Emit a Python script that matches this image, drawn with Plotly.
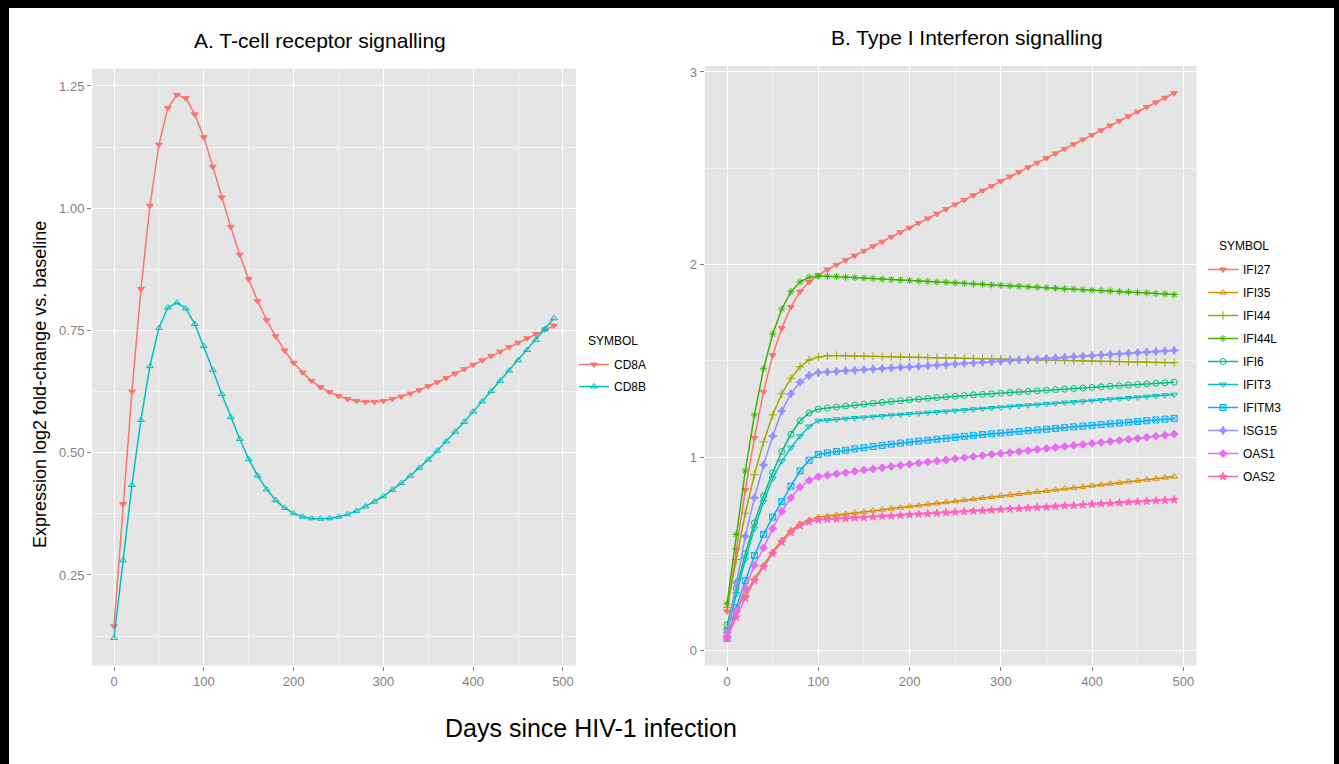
import plotly.graph_objects as go

PAGE_W, PAGE_H = 1339, 764
OFF_X, OFF_Y = 9, 8          # black frame on the left / top of the page
W, H = 1325, 756             # figure size (page minus frame)


def fx(p):
    """page pixel x -> paper fraction"""
    return (p - OFF_X) / W


def fy(p):
    """page pixel y -> paper fraction"""
    return 1 - (p - OFF_Y) / H


days = [0, 10, 20, 30, 40, 50, 60, 70, 80, 90,
        100, 110, 120, 130, 140, 150, 160, 170, 180, 190,
        200, 210, 220, 230, 240, 250, 260, 270, 280, 290,
        300, 310, 320, 330, 340, 350, 360, 370, 380, 390,
        400, 410, 420, 430, 440, 450, 460, 470, 480, 490]

# Panel A: T-cell receptor signalling
cd8a = [0.145, 0.395, 0.625, 0.835, 1.005, 1.130, 1.205, 1.232, 1.225, 1.192,
        1.145, 1.085, 1.022, 0.962, 0.905, 0.855, 0.810, 0.771, 0.738, 0.709,
        0.684, 0.664, 0.647, 0.634, 0.624, 0.616, 0.610, 0.606, 0.604, 0.604,
        0.606, 0.610, 0.615, 0.621, 0.628, 0.636, 0.644, 0.653, 0.662, 0.671,
        0.680, 0.689, 0.698, 0.707, 0.716, 0.725, 0.734, 0.743, 0.752, 0.760]
cd8b = [0.121, 0.280, 0.434, 0.567, 0.677, 0.755, 0.797, 0.807, 0.795, 0.763,
        0.718, 0.669, 0.620, 0.573, 0.528, 0.487, 0.453, 0.425, 0.403, 0.387,
        0.376, 0.369, 0.366, 0.365, 0.366, 0.369, 0.374, 0.381, 0.390, 0.400,
        0.411, 0.424, 0.438, 0.453, 0.469, 0.486, 0.504, 0.523, 0.543, 0.563,
        0.584, 0.605, 0.626, 0.647, 0.668, 0.689, 0.710, 0.731, 0.753, 0.775]

# Panel B: Type I Interferon signalling
ifi27 = [0.20, 0.52, 0.83, 1.10, 1.34, 1.53, 1.67, 1.78, 1.86, 1.91,
         1.945, 1.975, 1.999, 2.023, 2.047, 2.071, 2.095, 2.119, 2.144, 2.168,
         2.192, 2.216, 2.240, 2.264, 2.288, 2.312, 2.336, 2.360, 2.384, 2.408,
         2.433, 2.457, 2.481, 2.505, 2.529, 2.553, 2.577, 2.601, 2.625, 2.649,
         2.673, 2.697, 2.722, 2.746, 2.770, 2.794, 2.818, 2.842, 2.866, 2.890]
ifi35 = [0.12, 0.21, 0.29, 0.37, 0.44, 0.51, 0.57, 0.62, 0.655, 0.675,
         0.690, 0.695, 0.701, 0.706, 0.712, 0.717, 0.723, 0.728, 0.734, 0.739,
         0.745, 0.750, 0.756, 0.761, 0.767, 0.772, 0.778, 0.783, 0.789, 0.794,
         0.800, 0.805, 0.810, 0.816, 0.821, 0.826, 0.832, 0.837, 0.842, 0.847,
         0.853, 0.858, 0.863, 0.868, 0.874, 0.879, 0.884, 0.889, 0.895, 0.900]
ifi44 = [0.22, 0.47, 0.71, 0.91, 1.08, 1.22, 1.33, 1.41, 1.47, 1.505,
         1.520, 1.527, 1.528, 1.527, 1.526, 1.525, 1.524, 1.523, 1.522, 1.521,
         1.520, 1.519, 1.518, 1.517, 1.516, 1.515, 1.514, 1.513, 1.512, 1.511,
         1.510, 1.509, 1.508, 1.507, 1.506, 1.505, 1.504, 1.503, 1.502, 1.501,
         1.500, 1.499, 1.498, 1.497, 1.496, 1.495, 1.494, 1.493, 1.492, 1.491]
ifi44l = [0.24, 0.60, 0.93, 1.22, 1.46, 1.64, 1.77, 1.86, 1.91, 1.935,
          1.940, 1.940, 1.938, 1.935, 1.933, 1.930, 1.928, 1.925, 1.923, 1.920,
          1.918, 1.915, 1.913, 1.910, 1.908, 1.905, 1.903, 1.900, 1.898, 1.895,
          1.893, 1.890, 1.888, 1.885, 1.883, 1.880, 1.878, 1.875, 1.873, 1.870,
          1.868, 1.865, 1.863, 1.860, 1.858, 1.855, 1.853, 1.850, 1.848, 1.845]
ifi6 = [0.13, 0.32, 0.50, 0.66, 0.80, 0.92, 1.03, 1.12, 1.19, 1.23,
        1.250, 1.256, 1.261, 1.266, 1.271, 1.276, 1.281, 1.285, 1.290, 1.294,
        1.298, 1.302, 1.306, 1.310, 1.314, 1.317, 1.321, 1.324, 1.327, 1.330,
        1.333, 1.336, 1.339, 1.342, 1.345, 1.348, 1.351, 1.354, 1.357, 1.360,
        1.363, 1.366, 1.369, 1.372, 1.375, 1.378, 1.381, 1.384, 1.387, 1.390]
ifit3 = [0.10, 0.29, 0.47, 0.63, 0.77, 0.89, 0.98, 1.05, 1.11, 1.16,
         1.190, 1.193, 1.197, 1.200, 1.204, 1.207, 1.211, 1.214, 1.218, 1.221,
         1.225, 1.228, 1.232, 1.235, 1.238, 1.242, 1.245, 1.249, 1.252, 1.256,
         1.259, 1.263, 1.266, 1.270, 1.273, 1.277, 1.280, 1.284, 1.287, 1.290,
         1.294, 1.297, 1.301, 1.304, 1.308, 1.311, 1.315, 1.318, 1.322, 1.325]
ifitm3 = [0.06, 0.22, 0.36, 0.49, 0.60, 0.69, 0.77, 0.85, 0.93, 0.985,
          1.015, 1.023, 1.030, 1.037, 1.044, 1.050, 1.056, 1.062, 1.068, 1.074,
          1.079, 1.084, 1.089, 1.094, 1.099, 1.104, 1.109, 1.114, 1.118, 1.122,
          1.126, 1.130, 1.134, 1.138, 1.142, 1.146, 1.150, 1.154, 1.158, 1.162,
          1.166, 1.170, 1.174, 1.178, 1.182, 1.186, 1.190, 1.194, 1.198, 1.202]
isg15 = [0.09, 0.35, 0.59, 0.79, 0.96, 1.11, 1.24, 1.33, 1.39, 1.425,
         1.440, 1.443, 1.446, 1.449, 1.452, 1.455, 1.458, 1.461, 1.464, 1.467,
         1.469, 1.472, 1.475, 1.478, 1.481, 1.484, 1.487, 1.490, 1.493, 1.496,
         1.499, 1.502, 1.505, 1.508, 1.511, 1.514, 1.516, 1.519, 1.522, 1.525,
         1.528, 1.531, 1.534, 1.537, 1.540, 1.543, 1.546, 1.549, 1.552, 1.555]
oas1 = [0.07, 0.20, 0.32, 0.44, 0.53, 0.63, 0.72, 0.79, 0.845, 0.88,
        0.900, 0.907, 0.914, 0.920, 0.927, 0.934, 0.940, 0.946, 0.952, 0.958,
        0.964, 0.970, 0.976, 0.982, 0.987, 0.993, 0.998, 1.004, 1.009, 1.015,
        1.020, 1.025, 1.030, 1.035, 1.041, 1.046, 1.051, 1.056, 1.062, 1.067,
        1.072, 1.077, 1.083, 1.088, 1.093, 1.098, 1.104, 1.109, 1.114, 1.120]
oas2 = [0.06, 0.17, 0.27, 0.36, 0.43, 0.50, 0.56, 0.61, 0.645, 0.665,
        0.675, 0.678, 0.680, 0.683, 0.686, 0.688, 0.691, 0.694, 0.696, 0.699,
        0.702, 0.705, 0.707, 0.710, 0.713, 0.715, 0.718, 0.721, 0.723, 0.726,
        0.729, 0.732, 0.734, 0.737, 0.740, 0.742, 0.745, 0.748, 0.750, 0.753,
        0.756, 0.759, 0.761, 0.764, 0.767, 0.769, 0.772, 0.775, 0.777, 0.780]

a_names = ["CD8A", "CD8B"]
a_values = [cd8a, cd8b]
a_colors = ["#F8766D", "#00BFC4"]
a_symbols = ["triangle-down", "triangle-up-open"]

b_names = ["IFI27", "IFI35", "IFI44", "IFI44L", "IFI6", "IFIT3", "IFITM3", "ISG15", "OAS1", "OAS2"]
b_values = [ifi27, ifi35, ifi44, ifi44l, ifi6, ifit3, ifitm3, isg15, oas1, oas2]
b_colors = ["#F8766D", "#D89000", "#A3A500", "#39B600", "#00BF7D",
            "#00BFC4", "#00B0F6", "#9590FF", "#E76BF3", "#FF62BC"]
b_symbols = ["triangle-down", "triangle-up-open", "cross-thin-open", "asterisk-open", "circle-open",
             "triangle-down-open", "square-x-open", "star-diamond", "diamond", "star"]

FONT = "Liberation Sans, Arial, sans-serif"

fig = go.Figure()

for name, vals, col, sym in zip(a_names, a_values, a_colors, a_symbols):
    fig.add_trace(go.Scatter(
        x=days, y=vals, name=name, mode="lines+markers",
        line=dict(color=col, width=1.5),
        marker=dict(color=col, symbol=sym, size=6, line=dict(color=col, width=1)),
        xaxis="x", yaxis="y", legend="legend", legendgroup=name))

for name, vals, col, sym in zip(b_names, b_values, b_colors, b_symbols):
    fig.add_trace(go.Scatter(
        x=days, y=vals, name=name, mode="lines+markers",
        line=dict(color=col, width=1.5),
        marker=dict(color=col, symbol=sym, size=6, line=dict(color=col, width=1)),
        xaxis="x2", yaxis="y2", legend="legend2", legendgroup=name))


def ax(**kw):
    base = dict(showgrid=True, gridcolor="white", gridwidth=1.2, zeroline=False, showline=False,
                ticks="outside", ticklen=4, tickwidth=1, tickcolor="#7F7F7F",
                tickfont=dict(family=FONT, size=13, color="#7F7F7F"),
                autorange=False)
    base.update(kw)
    return base


fig.update_layout(
    width=W, height=H,
    margin=dict(l=0, r=0, t=0, b=0),
    paper_bgcolor="white", plot_bgcolor="#E5E5E5",
    font=dict(family=FONT, color="black"),
    xaxis=ax(domain=[fx(92), fx(576)], range=[-24.5, 514.5], anchor="y",
             tickvals=[0, 100, 200, 300, 400, 500],
             minor=dict(showgrid=True, gridcolor="#F2F2F2", gridwidth=0.6, tickvals=[50, 150, 250, 350, 450], ticks="")),
    yaxis=ax(domain=[fy(665.7), fy(68.6)], range=[0.0645, 1.2855], anchor="x",
             tickvals=[0.25, 0.5, 0.75, 1.0, 1.25], tickformat=".2f",
             minor=dict(showgrid=True, gridcolor="#F2F2F2", gridwidth=0.6, tickvals=[0.125, 0.375, 0.625, 0.875, 1.125], ticks="")),
    xaxis2=ax(domain=[fx(704.7), fx(1196.5)], range=[-24.5, 514.5], anchor="y2",
              tickvals=[0, 100, 200, 300, 400, 500],
              minor=dict(showgrid=True, gridcolor="#F2F2F2", gridwidth=0.6, tickvals=[50, 150, 250, 350, 450], ticks="")),
    yaxis2=ax(domain=[fy(665.7), fy(65.9)], range=[-0.0815, 3.0315], anchor="x2",
              tickvals=[0, 1, 2, 3],
              minor=dict(showgrid=True, gridcolor="#F2F2F2", gridwidth=0.6, tickvals=[0.5, 1.5, 2.5], ticks="")),
    legend=dict(x=fx(574), y=fy(350), xanchor="left", yanchor="top",
                bgcolor="rgba(0,0,0,0)", tracegroupgap=3,
                font=dict(family=FONT, size=12)),
    legend2=dict(x=fx(1203), y=fy(255), xanchor="left", yanchor="top",
                 bgcolor="rgba(0,0,0,0)", tracegroupgap=4,
                 font=dict(family=FONT, size=12)),
    showlegend=True,
)

annotations = [
    dict(text="A. T-cell receptor signalling", x=fx(320), y=fy(40), size=21, angle=0, xa="center"),
    dict(text="B. Type I Interferon signalling", x=fx(967), y=fy(38), size=21, angle=0, xa="center"),
    dict(text="Days since HIV-1 infection", x=fx(591), y=fy(728), size=25, angle=0, xa="center"),
    dict(text="Expression log2 fold-change vs. baseline", x=fx(40), y=fy(385), size=18, angle=-90, xa="center"),
    dict(text="SYMBOL", x=fx(586), y=fy(341), size=12, angle=0, xa="left"),
    dict(text="SYMBOL", x=fx(1217), y=fy(246), size=12, angle=0, xa="left"),
]
for a in annotations:
    fig.add_annotation(text=a["text"], x=a["x"], y=a["y"], xref="paper", yref="paper",
                       xanchor=a["xa"], yanchor="middle", showarrow=False, textangle=a["angle"],
                       font=dict(family=FONT, size=a["size"], color="black"))

# page frame: black page background with the figure offset inside it
frame_js = (
    "document.documentElement.style.background='black';"
    "document.body.style.margin='0';"
    "document.body.style.background='black';"
    "var d=document.getElementById('{plot_id}');"
    "d.style.position='absolute';d.style.left='%dpx';d.style.top='%dpx';" % (OFF_X, OFF_Y)
)

fig.write_html("out.html", config={"displayModeBar": False}, post_script=frame_js)
